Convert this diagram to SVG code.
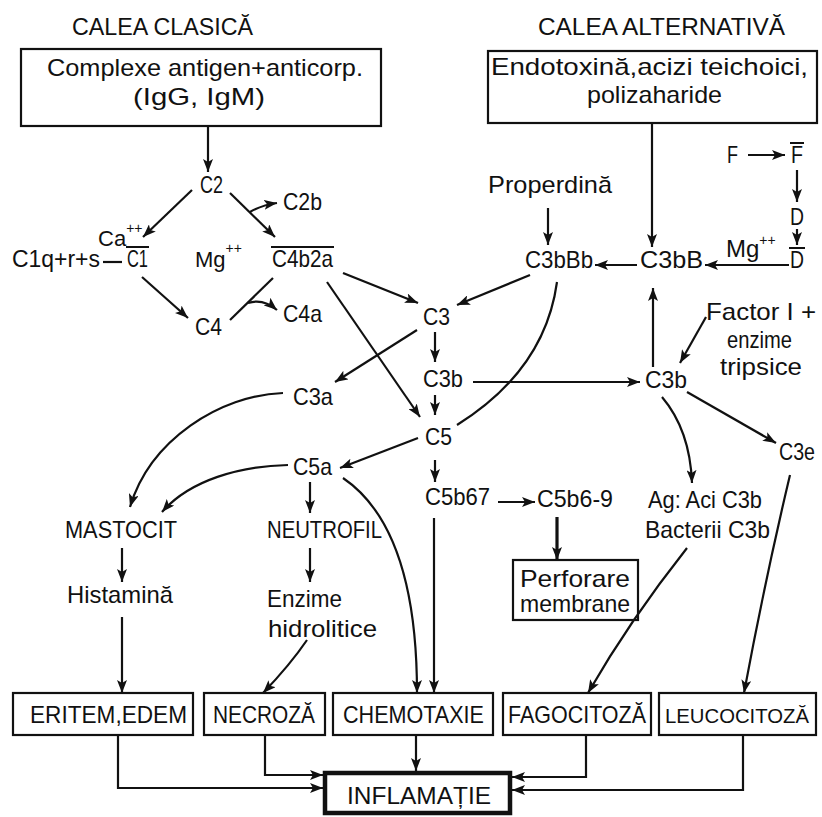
<svg xmlns="http://www.w3.org/2000/svg" width="822" height="817" viewBox="0 0 822 817">
<defs>
<marker id="ah" markerUnits="userSpaceOnUse" markerWidth="14" markerHeight="10" refX="13" refY="5" orient="auto">
<path d="M0,0 L13,5 L0,10 L3,5 z" fill="#111"/>
</marker>
<style>
text{font-family:"Liberation Sans",Arial,sans-serif;font-size:24px;fill:#111}
.sup{font-size:14px}
.box{fill:#fff;stroke:#111;stroke-width:2.2}
.thick{fill:#fff;stroke:#111;stroke-width:4.5}
.c path,.c line{fill:none;stroke:#111;stroke-width:2.2}
.a{marker-end:url(#ah)}
.ov{stroke:#111;stroke-width:2}
</style>
</defs>
<rect width="822" height="817" fill="#fff"/>

<g id="titles">
<text x="72" y="35" textLength="181" lengthAdjust="spacingAndGlyphs">CALEA CLASICĂ</text>
<text x="538" y="35" textLength="247" lengthAdjust="spacingAndGlyphs">CALEA ALTERNATIVĂ</text>
</g>

<g id="n-complexe">
<rect class="box" x="21" y="49" width="360" height="77"/>
<text x="47" y="76" textLength="316" lengthAdjust="spacingAndGlyphs">Complexe antigen+anticorp.</text>
<text x="133" y="105" textLength="132" lengthAdjust="spacingAndGlyphs">(IgG, IgM)</text>
</g>
<g id="n-endotoxina">
<rect class="box" x="488" y="51" width="329" height="72"/>
<text x="491" y="75" textLength="317" lengthAdjust="spacingAndGlyphs">Endotoxină,acizi teichoici,</text>
<text x="587" y="103" textLength="135" lengthAdjust="spacingAndGlyphs">polizaharide</text>
</g>

<g id="n-c2"><text x="200" y="193" textLength="23" lengthAdjust="spacingAndGlyphs">C2</text></g>
<g id="n-c2b"><text x="283" y="210" textLength="39" lengthAdjust="spacingAndGlyphs">C2b</text></g>
<g id="n-ca"><text x="98" y="246" style="font-size:22px">Ca<tspan class="sup" dy="-13">++</tspan></text></g>
<g id="n-c1q"><text x="12" y="267" textLength="88" lengthAdjust="spacingAndGlyphs">C1q+r+s</text></g>
<g id="n-c1"><text x="127" y="267" textLength="21" lengthAdjust="spacingAndGlyphs">C1</text><line class="ov" x1="126" y1="247" x2="149" y2="247"/></g>
<g id="n-mg1"><text x="195" y="267" style="font-size:22px">Mg<tspan class="sup" dy="-14">++</tspan></text></g>
<g id="n-c4b2a"><text x="272" y="267" textLength="61" lengthAdjust="spacingAndGlyphs">C4b2a</text><line class="ov" x1="271" y1="247" x2="334" y2="247"/></g>
<g id="n-c4"><text x="195" y="335" textLength="27" lengthAdjust="spacingAndGlyphs">C4</text></g>
<g id="n-c4a"><text x="283" y="322" textLength="39" lengthAdjust="spacingAndGlyphs">C4a</text></g>
<g id="n-c3"><text x="423" y="325" textLength="27" lengthAdjust="spacingAndGlyphs">C3</text></g>
<g id="n-c3b"><text x="423" y="387" textLength="40" lengthAdjust="spacingAndGlyphs">C3b</text></g>
<g id="n-c5"><text x="425" y="445" textLength="27" lengthAdjust="spacingAndGlyphs">C5</text></g>
<g id="n-c3a"><text x="293" y="405" textLength="40" lengthAdjust="spacingAndGlyphs">C3a</text></g>
<g id="n-c5a"><text x="293" y="475" textLength="39" lengthAdjust="spacingAndGlyphs">C5a</text></g>
<g id="n-c5b67"><text x="425" y="505" textLength="65" lengthAdjust="spacingAndGlyphs">C5b67</text></g>
<g id="n-c5b69"><text x="537" y="507" textLength="76" lengthAdjust="spacingAndGlyphs">C5b6-9</text></g>
<g id="n-perforare">
<rect class="box" x="513" y="560" width="125" height="60"/>
<text x="520" y="587" textLength="110" lengthAdjust="spacingAndGlyphs">Perforare</text>
<text x="520" y="612" textLength="110" lengthAdjust="spacingAndGlyphs">membrane</text>
</g>
<g id="n-properdina"><text x="488" y="193" textLength="124" lengthAdjust="spacingAndGlyphs">Properdină</text></g>
<g id="n-c3bbb"><text x="525" y="268" textLength="68" lengthAdjust="spacingAndGlyphs">C3bBb</text></g>
<g id="n-c3bb"><text x="640" y="268" textLength="63" lengthAdjust="spacingAndGlyphs">C3bB</text></g>
<g id="n-mg2"><text x="726" y="257" style="font-size:24px">Mg<tspan class="sup" dy="-12">++</tspan></text></g>
<g id="n-f"><text x="727" y="163" textLength="11" lengthAdjust="spacingAndGlyphs">F</text></g>
<g id="n-fbar"><text x="791" y="163" textLength="12" lengthAdjust="spacingAndGlyphs">F</text><line class="ov" x1="790" y1="143" x2="804" y2="143"/></g>
<g id="n-d"><text x="790" y="225" textLength="14" lengthAdjust="spacingAndGlyphs">D</text></g>
<g id="n-dbar"><text x="790" y="268" textLength="14" lengthAdjust="spacingAndGlyphs">D</text><line class="ov" x1="789" y1="248" x2="805" y2="248"/></g>
<g id="n-c3b-r"><text x="645" y="388" textLength="42" lengthAdjust="spacingAndGlyphs">C3b</text></g>
<g id="n-factor">
<text x="706" y="320" textLength="110" lengthAdjust="spacingAndGlyphs">Factor I +</text>
<text x="727" y="348" textLength="65" lengthAdjust="spacingAndGlyphs">enzime</text>
<text x="720" y="375" textLength="82" lengthAdjust="spacingAndGlyphs">tripsice</text>
</g>
<g id="n-c3e"><text x="779" y="460" textLength="36" lengthAdjust="spacingAndGlyphs">C3e</text></g>
<g id="n-ag">
<text x="648" y="508" textLength="114" lengthAdjust="spacingAndGlyphs">Ag: Aci C3b</text>
<text x="645" y="538" textLength="125" lengthAdjust="spacingAndGlyphs">Bacterii C3b</text>
</g>
<g id="n-mastocit"><text x="65" y="538" textLength="112" lengthAdjust="spacingAndGlyphs">MASTOCIT</text></g>
<g id="n-neutrofil"><text x="267" y="538" textLength="115" lengthAdjust="spacingAndGlyphs">NEUTROFIL</text></g>
<g id="n-histamina"><text x="67" y="603" textLength="106" lengthAdjust="spacingAndGlyphs">Histamină</text></g>
<g id="n-enzime">
<text x="267" y="607" textLength="75" lengthAdjust="spacingAndGlyphs">Enzime</text>
<text x="268" y="637" textLength="109" lengthAdjust="spacingAndGlyphs">hidrolitice</text>
</g>

<g id="n-eritem"><rect class="box" x="13" y="693" width="180" height="42"/><text x="30" y="723" textLength="157" lengthAdjust="spacingAndGlyphs">ERITEM,EDEM</text></g>
<g id="n-necroza"><rect class="box" x="204" y="693" width="121" height="42"/><text x="213" y="723" textLength="102" lengthAdjust="spacingAndGlyphs">NECROZĂ</text></g>
<g id="n-chemotaxie"><rect class="box" x="333" y="693" width="160" height="42"/><text x="343" y="723" textLength="141" lengthAdjust="spacingAndGlyphs">CHEMOTAXIE</text></g>
<g id="n-fagocitoza"><rect class="box" x="503" y="693" width="148" height="42"/><text x="508" y="723" textLength="138" lengthAdjust="spacingAndGlyphs">FAGOCITOZĂ</text></g>
<g id="n-leucocitoza"><rect class="box" x="659" y="693" width="157" height="42"/><text x="665" y="723" style="font-size:21px" textLength="144" lengthAdjust="spacingAndGlyphs">LEUCOCITOZĂ</text></g>
<g id="n-inflamatie"><rect class="thick" x="325" y="773" width="185" height="40"/><text x="347" y="804" textLength="144" lengthAdjust="spacingAndGlyphs">INFLAMAȚIE</text></g>

<g id="connectors" class="c">
<path class="a" d="M208,126 L208,172"/>
<path class="a" d="M192,190 L143,237"/>
<path class="a" d="M230,193 L275,237"/>
<path class="a" d="M250,212 Q262,205 277,203"/>
<path d="M103,262 L122,262"/>
<path class="a" d="M142,277 L188,318"/>
<path d="M230,320 L273,278"/>
<path class="a" d="M248,303 Q263,298 277,310"/>
<path class="a" d="M343,273 L418,303"/>
<path class="a" d="M327,282 L420,417"/>
<path class="a" d="M530,275 L457,305"/>
<path class="a" d="M435,332 L435,362"/>
<path class="a" d="M435,395 L435,415"/>
<path class="a" d="M417,330 L335,382"/>
<path class="a" d="M418,438 Q382,452 340,468"/>
<path d="M457,425 Q545,370 557,282"/>
<path class="a" d="M473,382 L640,382"/>
<path class="a" d="M435,460 L435,482"/>
<path class="a" d="M498,502 L535,502"/>
<path class="a" d="M557,517 L557,560" style="stroke-width:3.2"/>
<path class="a" d="M434,518 L434,693"/>
<path class="a" d="M343,478 C390,510 417,580 417,693"/>
<path class="a" d="M283,393 C220,395 150,440 130,507"/>
<path class="a" d="M288,465 C240,466 190,480 162,512"/>
<path class="a" d="M310,482 L310,513"/>
<path class="a" d="M122,548 L122,582"/>
<path class="a" d="M310,548 L310,582"/>
<path class="a" d="M122,617 L122,693"/>
<path class="a" d="M307,640 Q290,665 263,693"/>
<path class="a" d="M548,208 L548,245"/>
<path class="a" d="M652,123 L652,247"/>
<path class="a" d="M637,265 L595,265"/>
<path class="a" d="M789,265 L705,265"/>
<path class="a" d="M748,155 L785,155"/>
<path class="a" d="M797,170 L797,202"/>
<path class="a" d="M797,229 L797,245"/>
<path class="a" d="M653,367 L653,288"/>
<path class="a" d="M706,317 L680,363"/>
<path class="a" d="M687,392 L776,443"/>
<path class="a" d="M662,397 Q690,430 692,483"/>
<path class="a" d="M687,548 Q630,620 588,693"/>
<path class="a" d="M790,475 Q765,580 744,693"/>
<path class="a" d="M118,735 L118,788 L323,788"/>
<path class="a" d="M265,735 L265,775 L323,775"/>
<path class="a" d="M416,735 L416,771"/>
<path class="a" d="M586,735 L586,777 L512,777"/>
<path class="a" d="M743,735 L743,790 L512,790"/>
</g>
</svg>
